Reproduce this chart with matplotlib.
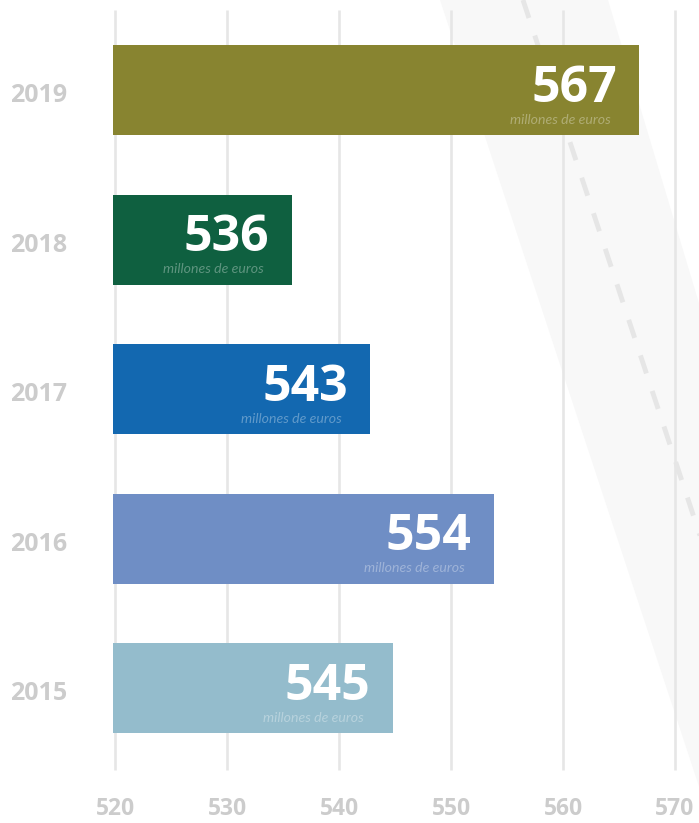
import matplotlib
matplotlib.use('Agg')
import matplotlib.pyplot as plt
from matplotlib.patches import Polygon
from matplotlib.lines import Line2D

# datos
years = ['2019', '2018', '2017', '2016', '2015']
values = [567, 536, 543, 554, 545]
colors = ['#888430', '#0f6040', '#1368b0', '#6f8ec5', '#94bccc']
ticks = [520, 530, 540, 550, 560, 570]
unit_label = 'millones de euros'

W, H = 699, 823
fig = plt.figure(figsize=(W / 100, H / 100), dpi=100)
fig.patch.set_facecolor('white')

# fondo: carretera diagonal gris claro
def fxy(px, py):
    return (px / W, 1 - py / H)

road = Polygon([fxy(440, 0), fxy(608, 0), fxy(855, 823), fxy(711, 823)],
               closed=True, transform=fig.transFigure, facecolor='#f8f8f8',
               edgecolor='none', zorder=-2)
fig.patches.append(road)
dash = Line2D([523 / W, 795 / W], [1, 0], transform=fig.transFigure,
              color='#e6e6e6', lw=3.5, linestyle=(0, (3.9, 3.8)), zorder=-1)
fig.lines.append(dash)

ax = fig.add_axes([0, 0, 1, 1])
ax.set_facecolor('none')
ax.set_xlim(509.73, 572.14)
step = 149.5
ax.set_ylim((H - 90) / step, -90 / step)
ax.axis('off')

# rejilla vertical
ax.vlines(ticks, -80 / step, (770 - 90) / step, color='#e6e6e6', lw=1.9, zorder=1)

ypos = list(range(len(years)))
ax.barh(ypos, [v - 520 for v in values], left=519.8, height=90 / step,
        color=colors, zorder=2)

for y, v, yr in zip(ypos, values, years):
    ax.text(v - 2.2, y - 0.01, str(v), ha='right', va='center', color='white',
            fontsize=36, fontweight='bold', family='Open Sans', zorder=3)
    ax.text(v - 2.75, y + 0.2, unit_label, ha='right', va='center',
            color='white', alpha=0.33, fontsize=10.2, style='italic',
            family='Lato', zorder=3)
    ax.text(513.2, y + 0.04, yr, ha='center', va='center', color='#cccccc',
            fontsize=18, fontweight='bold', family='Open Sans')

for t in ticks:
    ax.text(t, (809 - 90) / step, str(t), ha='center', va='center',
            color='#cccccc', fontsize=16.5, fontweight='bold', family='Open Sans')

fig.savefig('out.png', dpi=100)
